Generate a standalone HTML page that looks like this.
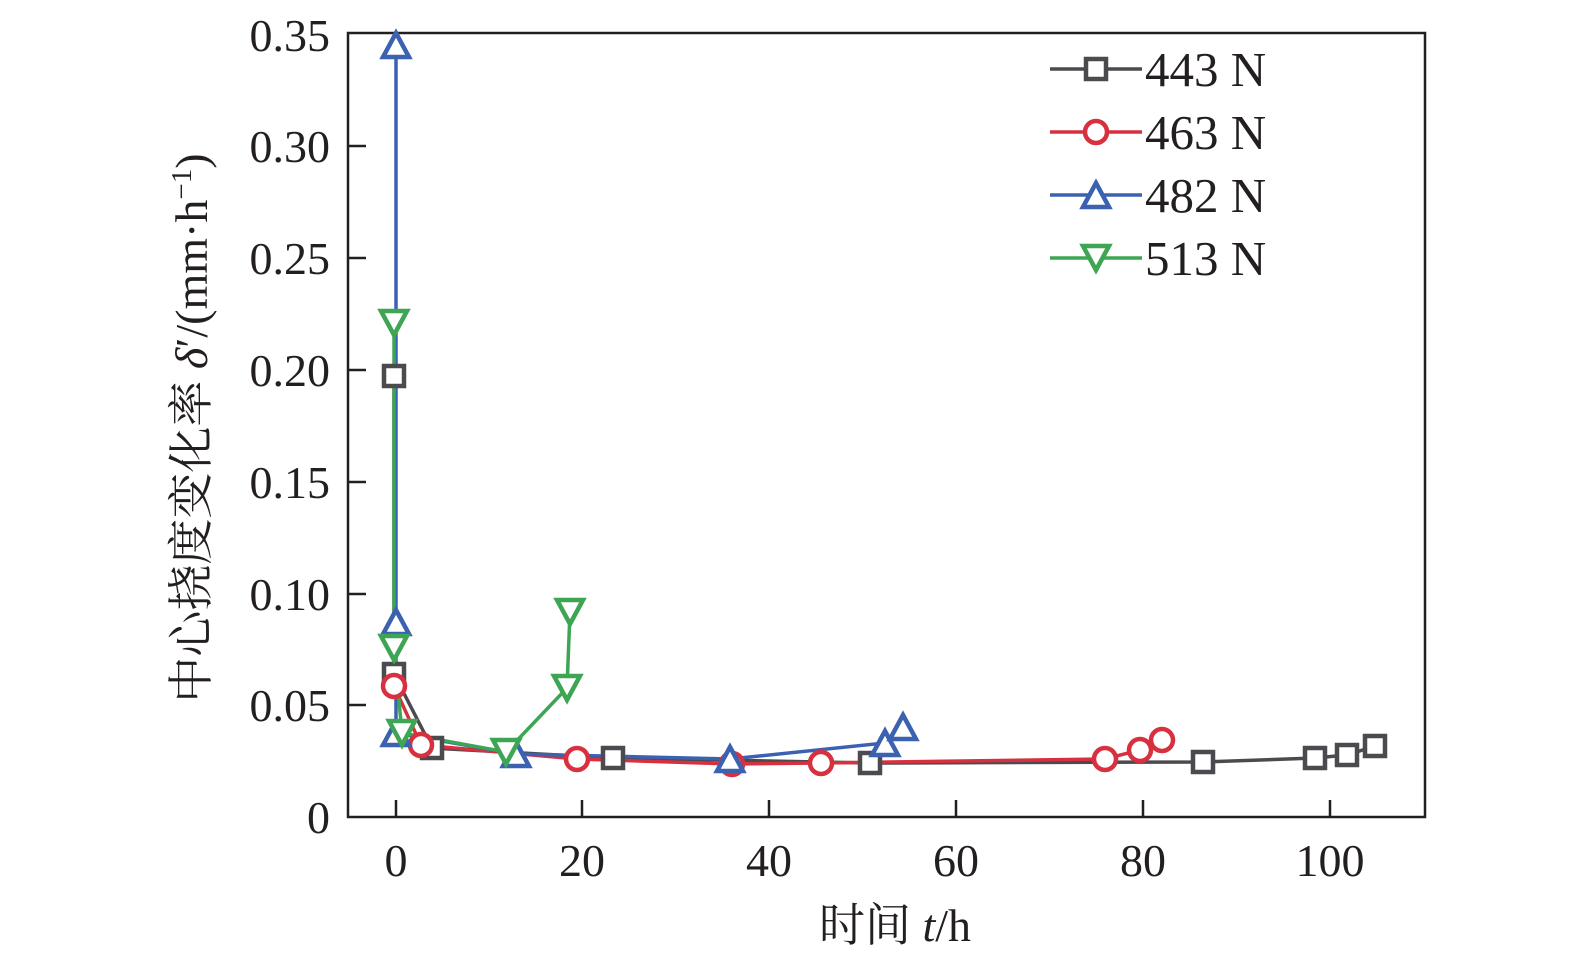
<!DOCTYPE html>
<html><head><meta charset="utf-8"><style>body{margin:0;background:#fff}</style></head><body>
<svg width="1575" height="967" xmlns="http://www.w3.org/2000/svg" font-family="'Liberation Serif','Noto Serif CJK SC',serif">
<rect width="1575" height="967" fill="#fff"/>
<rect x="348" y="33" width="1077" height="784" fill="none" stroke="#231f20" stroke-width="2.5"/>
<g stroke="#231f20" stroke-width="2.5">
<line x1="396" y1="817" x2="396" y2="800"/><line x1="582" y1="817" x2="582" y2="800"/><line x1="769" y1="817" x2="769" y2="800"/><line x1="956" y1="817" x2="956" y2="800"/><line x1="1143" y1="817" x2="1143" y2="800"/><line x1="1330" y1="817" x2="1330" y2="800"/>
<line x1="348" y1="705" x2="366" y2="705"/><line x1="348" y1="594" x2="366" y2="594"/><line x1="348" y1="482" x2="366" y2="482"/><line x1="348" y1="370" x2="366" y2="370"/><line x1="348" y1="258" x2="366" y2="258"/><line x1="348" y1="146" x2="366" y2="146"/>
</g>
<g font-size="46" fill="#231f20" text-anchor="end">
<text x="330" y="833">0</text><text x="330" y="721">0.05</text><text x="330" y="610">0.10</text><text x="330" y="498">0.15</text><text x="330" y="386">0.20</text><text x="330" y="274">0.25</text><text x="330" y="162">0.30</text><text x="330" y="51">0.35</text>
</g>
<g font-size="46" fill="#231f20" text-anchor="middle">
<text x="396" y="876">0</text><text x="582" y="876">20</text><text x="769" y="876">40</text><text x="956" y="876">60</text><text x="1143" y="876">80</text><text x="1330" y="876">100</text>
</g>
<text x="895" y="941" font-size="46" text-anchor="middle" fill="#231f20">时间 <tspan font-style="italic">t</tspan>/h</text>
<text transform="translate(207,428) rotate(-90)" font-size="46" text-anchor="middle" fill="#231f20">中心挠度变化率 <tspan font-style="italic">δ</tspan>′/(mm·h<tspan font-size="29" dy="-16">−1</tspan><tspan dy="16">)</tspan></text>
<g fill="none" stroke-width="3.5">
<polyline stroke="#4a4a4f" points="394,376 394,674 432,748 613,758 870,763 1203,762 1315,758 1347,755 1375,746"/>
<polyline stroke="#d7303e" points="394,686 421,745 577,759 732,764 821,763 1105,759 1140,750 1162,740"/>
<polyline stroke="#3a62b0" points="396,45 396,622 396,733 516,754 730,759 885,743 903,727"/>
<polyline stroke="#3ea555" points="394,323 394,648 402,733 506,752 567,688 570,612"/>
</g>
<g fill="#fff" stroke="#4a4a4f" stroke-width="4.5">
<rect x="384" y="366" width="20" height="20"/><rect x="384" y="664" width="20" height="20"/><rect x="422" y="738" width="20" height="20"/><rect x="603" y="748" width="20" height="20"/><rect x="860" y="753" width="20" height="20"/><rect x="1193" y="752" width="20" height="20"/><rect x="1305" y="748" width="20" height="20"/><rect x="1337" y="745" width="20" height="20"/><rect x="1365" y="736" width="20" height="20"/>
</g>
<g fill="#fff" stroke="#d7303e" stroke-width="4.5">
<circle cx="394" cy="686" r="11"/><circle cx="421" cy="745" r="11"/><circle cx="577" cy="759" r="11"/><circle cx="732" cy="764" r="11"/><circle cx="821" cy="763" r="11"/><circle cx="1105" cy="759" r="11"/><circle cx="1140" cy="750" r="11"/><circle cx="1162" cy="740" r="11"/>
</g>
<g fill="#fff" stroke="#3a62b0" stroke-width="4.5">
<path d="M396,33 l13,24 h-26z"/><path d="M396,610 l13,24 h-26z"/><path d="M396,721 l13,24 h-26z"/><path d="M516,742 l13,24 h-26z"/><path d="M730,747 l13,24 h-26z"/><path d="M885,731 l13,24 h-26z"/><path d="M903,715 l13,24 h-26z"/>
</g>
<g fill="#fff" stroke="#3ea555" stroke-width="4.5">
<path d="M394,335 l13,-24 h-26z"/><path d="M394,660 l13,-24 h-26z"/><path d="M402,745 l13,-24 h-26z"/><path d="M506,764 l13,-24 h-26z"/><path d="M567,700 l13,-24 h-26z"/><path d="M570,624 l13,-24 h-26z"/>
</g>
<g stroke-width="3.5" fill="#fff">
<line x1="1050" y1="69" x2="1142" y2="69" stroke="#4a4a4f"/><rect x="1086" y="59" width="20" height="20" stroke="#4a4a4f" stroke-width="4.5"/>
<line x1="1050" y1="132" x2="1142" y2="132" stroke="#d7303e"/><circle cx="1096" cy="132" r="11" stroke="#d7303e" stroke-width="4.5"/>
<line x1="1050" y1="195" x2="1142" y2="195" stroke="#3a62b0"/><path d="M1096,183 l13,24 h-26z" stroke="#3a62b0" stroke-width="4.5"/>
<line x1="1050" y1="258" x2="1142" y2="258" stroke="#3ea555"/><path d="M1096,270 l13,-24 h-26z" stroke="#3ea555" stroke-width="4.5"/>
</g>
<g font-size="49" fill="#231f20">
<text x="1145" y="86">443 N</text><text x="1145" y="149">463 N</text><text x="1145" y="212">482 N</text><text x="1145" y="275">513 N</text>
</g>
</svg>
</body></html>
